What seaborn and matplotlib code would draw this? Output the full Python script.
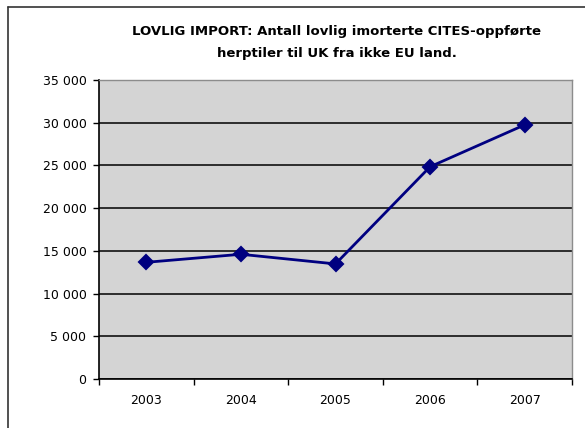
import matplotlib
matplotlib.use('Agg')
import matplotlib.pyplot as plt
import seaborn as sns
import pandas as pd
from matplotlib.ticker import FuncFormatter, FixedLocator

years = ['2003', '2004', '2005', '2006', '2007']
imports = [13660, 14600, 13470, 24850, 29750]
title = 'LOVLIG IMPORT: Antall lovlig imorterte CITES-oppførte\nherptiler til UK fra ikke EU land.'

df = pd.DataFrame({'year': years, 'count': imports})

sns.set_style('white')
plt.rcParams['font.family'] = ['DejaVu Sans']
plt.rcParams['text.color'] = 'black'
plt.rcParams['xtick.color'] = 'black'
plt.rcParams['ytick.color'] = 'black'

fig = plt.figure(figsize=(5.85, 4.28), dpi=100)
ax = fig.add_axes([99/585, 1 - 379/428, (572 - 99)/585, (379 - 80)/428])
ax.set_facecolor('#d4d4d4')

sns.pointplot(data=df, x='year', y='count', color='#000080', markers='D',
              markersize=7, linewidth=2, ax=ax, zorder=3)

ax.set_ylim(0, 35000)
ax.set_xlim(-0.5, 4.5)
ax.set_yticks(range(0, 35001, 5000))
ax.yaxis.set_major_formatter(FuncFormatter(lambda v, p: f'{int(v):,}'.replace(',', ' ')))
ax.grid(axis='y', color='black', linewidth=1.1)
ax.set_axisbelow(True)

# Excel-style category axis: tick marks between categories, labels at centres
ax.xaxis.set_major_locator(FixedLocator([-0.5, 0.5, 1.5, 2.5, 3.5, 4.5]))
ax.xaxis.set_minor_locator(FixedLocator([0, 1, 2, 3, 4]))
ax.set_xticklabels([], minor=False)
ax.set_xticklabels(years, minor=True)
ax.tick_params(axis='x', which='major', direction='out', length=4, width=1, color='black')
ax.tick_params(axis='x', which='minor', length=0, pad=11, labelsize=9)
ax.tick_params(axis='y', direction='out', length=4, width=1, color='black', labelsize=9, pad=5)
ax.tick_params(left=True, bottom=True)

ax.set_xlabel('')
ax.set_ylabel('')
for side in ['left', 'bottom']:
    ax.spines[side].set_color('black')
    ax.spines[side].set_linewidth(1.2)
for side in ['top', 'right']:
    ax.spines[side].set_color('#8c8c8c')
    ax.spines[side].set_linewidth(1)

fig.text(337/585, 1 - 43/428, title, ha='center', va='center', color='black',
         fontsize=9.5, fontweight='bold', linespacing=1.9)

# chart frame (left and top edges visible)
fig.add_artist(plt.Line2D([8/585, 8/585], [0, 1 - 7/428], color='#333333', linewidth=1.2))
fig.add_artist(plt.Line2D([8/585, 1], [1 - 7/428, 1 - 7/428], color='#333333', linewidth=1.2))

fig.savefig('out.png', dpi=100)
